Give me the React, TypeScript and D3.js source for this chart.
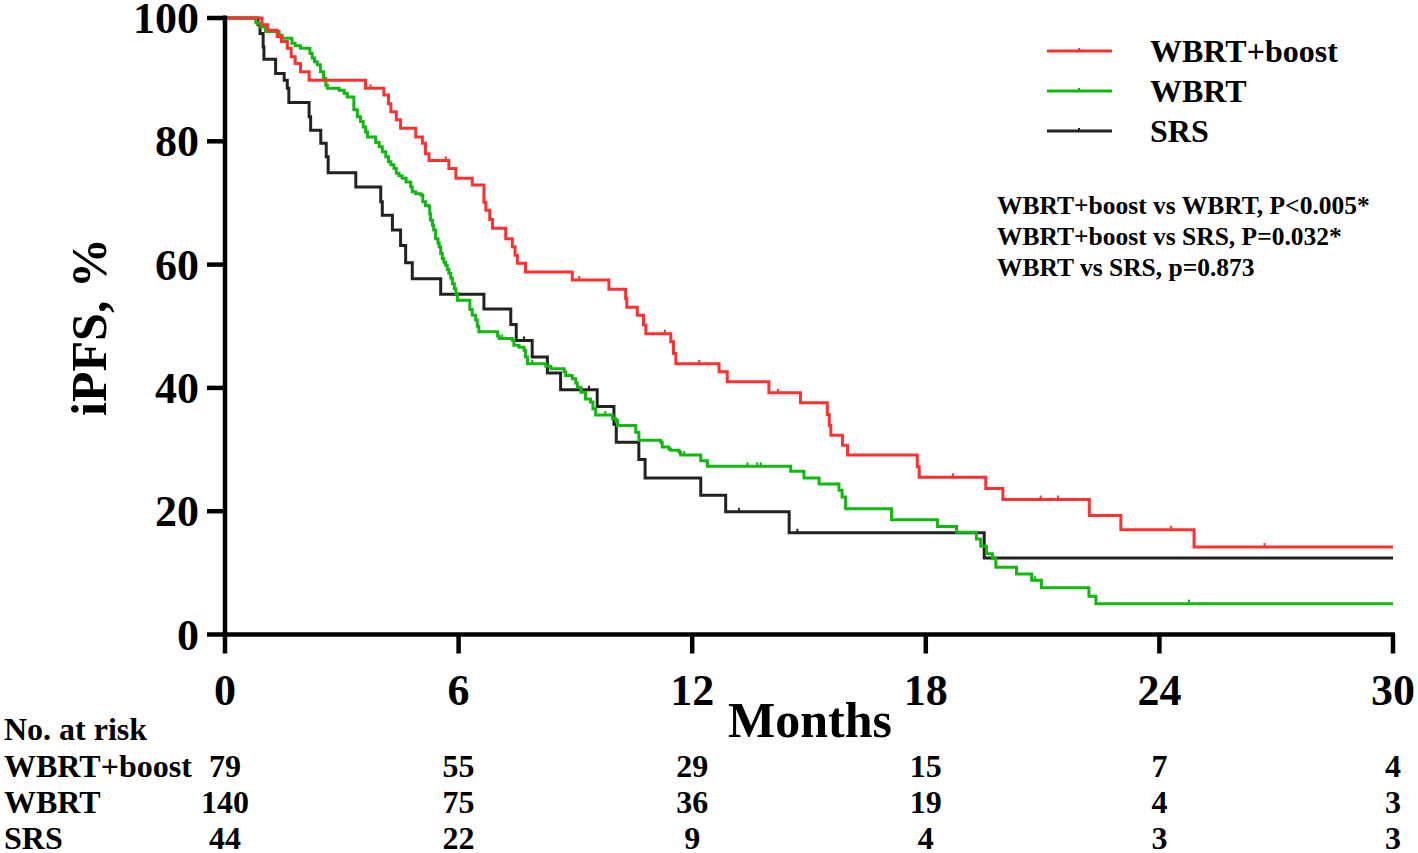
import React from "react";
import * as d3 from "d3";

// ---------- DATA ----------
const seriesNames = ["WBRT+boost", "WBRT", "SRS"];
const seriesColors = ["#ff3030", "#10b810", "#222222"];

// [month, survival % after the step]
const boostSteps: [number, number][] = [
  [0, 100], [0.95, 98.9], [1.1, 98.0], [1.34, 97.0], [1.45, 96.2], [1.6, 95.1], [1.7, 93.7],
  [1.8, 92.6], [1.94, 91.3], [2.16, 89.9], [3.61, 88.6], [4.08, 87.5], [4.2, 86.1], [4.26, 84.8],
  [4.4, 83.5], [4.51, 82.1], [4.9, 80.7], [5.07, 79.7], [5.15, 78.0], [5.24, 76.9], [5.75, 75.6],
  [5.93, 74.0], [6.35, 72.9], [6.65, 70.1], [6.7, 68.8], [6.8, 67.3], [6.87, 65.9], [7.21, 64.2],
  [7.38, 62.9], [7.45, 61.5], [7.51, 60.2], [7.72, 58.8], [8.92, 57.5], [9.86, 56.0], [10.29, 54.5],
  [10.32, 53.1], [10.59, 51.8], [10.75, 50.2], [10.81, 48.8], [11.45, 47.5], [11.52, 45.6],
  [11.58, 43.9], [12.69, 42.6], [12.9, 41.0], [13.97, 39.2], [14.78, 37.6], [15.47, 35.7],
  [15.52, 33.9], [15.56, 32.3], [15.86, 30.7], [15.99, 29.1], [17.78, 27.2], [17.83, 25.5],
  [19.54, 23.7], [19.98, 21.9], [22.2, 19.3], [23.01, 17.0], [24.89, 14.2],
];
const wbrtSteps: [number, number][] = [
  [0, 100], [0.79, 99.3], [0.83, 99.1], [0.92, 98.6], [1.04, 97.8], [1.39, 97.2], [1.47, 96.7],
  [1.72, 95.9], [1.8, 95.5], [1.94, 95.1], [2.18, 94.3], [2.24, 93.5], [2.3, 92.9], [2.37, 92.4],
  [2.45, 91.3], [2.53, 90.2], [2.59, 89.1], [2.63, 88.6], [2.93, 88.3], [3.06, 87.8], [3.14, 87.2],
  [3.31, 85.1], [3.4, 84.0], [3.48, 83.2], [3.55, 82.3], [3.61, 81.5], [3.66, 80.7], [3.87, 79.8],
  [3.96, 79.1], [4.04, 78.3], [4.13, 77.5], [4.2, 76.7], [4.26, 76.2], [4.34, 75.6], [4.4, 74.8],
  [4.47, 74.4], [4.55, 74.0], [4.65, 73.4], [4.77, 72.6], [4.81, 71.8], [4.9, 71.5], [5.03, 71.3],
  [5.08, 70.2], [5.15, 69.6], [5.24, 69.4], [5.26, 68.2], [5.28, 67.2], [5.33, 66.4], [5.36, 65.6],
  [5.41, 64.2], [5.47, 63.5], [5.5, 62.9], [5.54, 61.8], [5.58, 61.0], [5.62, 60.4], [5.67, 59.9],
  [5.71, 59.2], [5.75, 58.6], [5.8, 57.8], [5.84, 56.9], [5.89, 56.1], [5.93, 55.3], [5.97, 54.2],
  [6.29, 52.7], [6.35, 51.8], [6.44, 51.0], [6.48, 50.0], [6.52, 49.1], [7.0, 48.4], [7.04, 48.0],
  [7.38, 47.7], [7.42, 46.9], [7.55, 46.6], [7.68, 46.1], [7.72, 45.0], [7.77, 43.9], [8.24, 43.5],
  [8.37, 43.1], [8.71, 42.6], [8.75, 42.0], [8.92, 41.5], [9.01, 40.8], [9.05, 40.1], [9.14, 39.3],
  [9.26, 38.2], [9.39, 37.7], [9.45, 36.6], [9.52, 35.6], [9.95, 35.0], [10.04, 34.7], [10.08, 33.9],
  [10.55, 32.8], [10.63, 31.5], [11.19, 31.2], [11.23, 30.4], [11.4, 30.1], [11.45, 29.9],
  [11.66, 29.6], [11.7, 29.1], [12.22, 28.2], [12.39, 27.3], [14.53, 26.5], [14.87, 25.4],
  [15.26, 24.4], [15.77, 23.4], [15.85, 22.3], [15.94, 20.4], [17.12, 18.6], [18.3, 17.5],
  [18.79, 16.6], [19.3, 15.5], [19.41, 14.3], [19.56, 13.1], [19.71, 12.3], [19.8, 10.9],
  [20.33, 9.8], [20.72, 8.8], [20.97, 7.6], [22.19, 6.2], [22.37, 5.0],
];
const srsSteps: [number, number][] = [
  [0, 100], [0.85, 98.9], [0.9, 97.5], [0.98, 95.3], [1.0, 93.3], [1.3, 91.0], [1.52, 89.9],
  [1.6, 88.6], [1.64, 86.3], [2.16, 84.0], [2.2, 81.8], [2.46, 79.7], [2.6, 77.5], [2.65, 74.9],
  [3.36, 72.6], [4.0, 70.2], [4.04, 68.0], [4.3, 65.6], [4.51, 63.1], [4.64, 60.3], [4.81, 57.7],
  [5.54, 55.2], [6.65, 52.8], [7.34, 50.3], [7.48, 47.7], [7.89, 45.0], [8.28, 42.4], [8.62, 39.7],
  [9.56, 37.0], [9.99, 34.1], [10.05, 31.2], [10.63, 28.4], [10.79, 25.4], [12.22, 22.6],
  [12.86, 19.9], [14.49, 16.5], [19.5, 12.4],
];
const boostCensor = [3.74, 5.67, 9.1, 11.3, 12.18, 14.2, 18.7, 20.95, 21.4, 24.3, 26.7];
const wbrtCensor = [7.12, 7.89, 9.77, 11.79, 13.42, 13.67, 13.76, 20.8, 24.76];
const srsCensor = [7.68, 9.35, 13.2, 14.7];

const xTicks = [0, 6, 12, 18, 24, 30];
const yTicks = [0, 20, 40, 60, 80, 100];
const riskBoost = [79, 55, 29, 15, 7, 4];
const riskWbrt = [140, 75, 36, 19, 4, 3];
const riskSrs = [44, 22, 9, 4, 3, 3];
const pTexts = [
  "WBRT+boost vs WBRT, P<0.005*",
  "WBRT+boost vs SRS, P=0.032*",
  "WBRT vs SRS, p=0.873",
];

const FONT = "'Liberation Serif', 'Times New Roman', serif";

export default function App() {
  const x = d3.scaleLinear().domain([0, 30]).range([225, 1393]);
  const y = d3.scaleLinear().domain([0, 100]).range([634.5, 18]);
  const line = d3
    .line<[number, number]>()
    .x((d) => x(d[0]))
    .y((d) => y(d[1]))
    .curve(d3.curveStepAfter);

  const allSteps = [boostSteps, wbrtSteps, srsSteps];
  const allCensor = [boostCensor, wbrtCensor, srsCensor];
  const risks = [riskBoost, riskWbrt, riskSrs];

  const valueAt = (steps: [number, number][], t: number) => {
    let v = 100;
    for (const s of steps) if (s[0] <= t) v = s[1];
    return v;
  };

  return (
    <div style={{ position: "absolute", left: 0, top: 0 }}>
      <svg width={1418} height={853} style={{ display: "block", background: "#fff" }} fontFamily={FONT} fontWeight="bold">
        {[2, 1, 0].map((i) => {
          const steps = allSteps[i];
          const pts: [number, number][] = [...steps, [30, steps[steps.length - 1][1]]];
          return (
            <g key={i}>
              <path d={line(pts) || ""} fill="none" stroke={seriesColors[i]} strokeWidth={3} />
              {allCensor[i].map((t, k) => (
                <line key={k} x1={x(t)} x2={x(t)} y1={y(valueAt(steps, t))} y2={y(valueAt(steps, t)) - 4}
                  stroke={seriesColors[i]} strokeWidth={2} />
              ))}
            </g>
          );
        })}

        {/* axes */}
        <line x1={x(0)} x2={x(0)} y1={y(100) - 2.5} y2={y(0) + 2.5} stroke="#000" strokeWidth={4.5} />
        <line x1={x(0) - 2} x2={x(30) + 2} y1={y(0)} y2={y(0)} stroke="#000" strokeWidth={4.5} />
        {yTicks.map((t) => (
          <g key={"y" + t}>
            <line x1={x(0) - 18} x2={x(0)} y1={y(t)} y2={y(t)} stroke="#000" strokeWidth={4.5} />
            <text x={199} y={y(t) + 15} textAnchor="end" fontSize={44}>{t}</text>
          </g>
        ))}
        {xTicks.map((t) => (
          <g key={"x" + t}>
            <line x1={x(t)} x2={x(t)} y1={y(0)} y2={y(0) + 19} stroke="#000" strokeWidth={4.5} />
            <text x={x(t)} y={705} textAnchor="middle" fontSize={44}>{t}</text>
          </g>
        ))}
        <text x={810} y={737} textAnchor="middle" fontSize={50}>Months</text>
        <text transform={`translate(106,327) rotate(-90)`} textAnchor="middle" fontSize={50}>iPFS, %</text>

        {/* legend */}
        {seriesNames.map((n, i) => (
          <g key={n}>
            <line x1={1047} x2={1112} y1={51 + i * 40} y2={51 + i * 40} stroke={seriesColors[i]} strokeWidth={3} />
            <line x1={1079} x2={1079} y1={51 + i * 40} y2={48 + i * 40} stroke={seriesColors[i]} strokeWidth={2} />
            <text x={1150} y={62 + i * 40} fontSize={32}>{n}</text>
          </g>
        ))}
        {pTexts.map((p, i) => (
          <text key={p} x={997} y={214 + i * 31} fontSize={25.5}>{p}</text>
        ))}

        {/* risk table */}
        <text x={4} y={740} fontSize={32}>No. at risk</text>
        {seriesNames.map((n, i) => (
          <g key={"r" + n}>
            <text x={4} y={777 + i * 36} fontSize={32}>{n}</text>
            {risks[i].map((v, k) => (
              <text key={k} x={x(xTicks[k])} y={777 + i * 36} textAnchor="middle" fontSize={32}>{v}</text>
            ))}
          </g>
        ))}
      </svg>
    </div>
  );
}
